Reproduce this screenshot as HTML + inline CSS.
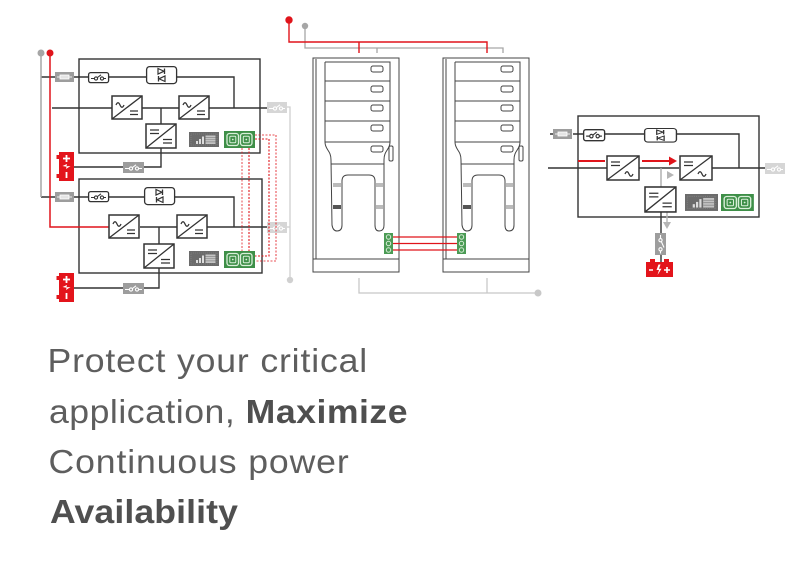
<!DOCTYPE html>
<html><head><meta charset="utf-8"><style>
html,body{margin:0;padding:0;background:#fff;}
svg{display:block;}
</style></head><body>
<svg width="790" height="566" viewBox="0 0 790 566" xmlns="http://www.w3.org/2000/svg">
<defs>
  <g id="cv1">
    <rect x="0" y="0" width="30" height="23" fill="#fff" stroke="#333" stroke-width="1.5"/>
    <line x1="0" y1="23" x2="30" y2="0" stroke="#333" stroke-width="1.3"/>
    <path d="M4 9 q2 -4.5 4 0 t4 0" fill="none" stroke="#333" stroke-width="1.3"/>
    <path d="M18 15 H26 M18 18.5 H26" stroke="#333" stroke-width="1.3"/>
  </g>
  <g id="cv2">
    <rect x="0" y="0" width="32" height="24" fill="#fff" stroke="#333" stroke-width="1.5"/>
    <line x1="0" y1="24" x2="32" y2="0" stroke="#333" stroke-width="1.3"/>
    <path d="M4 6 H13 M4 9.5 H13" stroke="#333" stroke-width="1.3"/>
    <path d="M18 18 q2 -4.5 4 0 t4 0" fill="none" stroke="#333" stroke-width="1.3"/>
  </g>
  <g id="cv3">
    <rect x="0" y="0" width="30" height="24" fill="#fff" stroke="#333" stroke-width="1.5"/>
    <line x1="0" y1="24" x2="30" y2="0" stroke="#333" stroke-width="1.3"/>
    <path d="M4 6 H13 M4 9.5 H13" stroke="#333" stroke-width="1.3"/>
    <path d="M17 15.5 H26 M17 19 H26" stroke="#333" stroke-width="1.3"/>
  </g>
  <g id="sw">
    <rect x="0.6" y="0.6" width="20" height="10" rx="2" fill="#fff" stroke="#333" stroke-width="1.3"/>
    <path d="M3 6.5 H6.4 M9.5 5.5 L13 2.8 M15.6 6.5 H18" stroke="#333" stroke-width="1.1" fill="none"/>
    <circle cx="8" cy="6.5" r="1.6" fill="none" stroke="#333" stroke-width="1.1"/>
    <circle cx="14" cy="6.5" r="1.6" fill="none" stroke="#333" stroke-width="1.1"/>
  </g>
  <g id="gsw">
    <rect x="0" y="0" width="21" height="11" fill="#9d9d9d"/>
    <path d="M2 6.5 H6.4 M9.5 5.5 L13 2.8 M15.6 6.5 H19" stroke="#fff" stroke-width="1.1" fill="none"/>
    <circle cx="8" cy="6.5" r="1.6" fill="none" stroke="#fff" stroke-width="1.1"/>
    <circle cx="14" cy="6.5" r="1.6" fill="none" stroke="#fff" stroke-width="1.1"/>
  </g>
  <g id="lsw">
    <rect x="0" y="0" width="20" height="11" fill="#d6d6d6"/>
    <path d="M2 6.5 H6.4 M9.5 5.5 L13 2.8 M15.6 6.5 H18" stroke="#fff" stroke-width="1.1" fill="none"/>
    <circle cx="8" cy="6.5" r="1.6" fill="none" stroke="#fff" stroke-width="1.1"/>
    <circle cx="14" cy="6.5" r="1.6" fill="none" stroke="#fff" stroke-width="1.1"/>
  </g>
  <g id="fuse">
    <rect x="0" y="0" width="19" height="10" fill="#9d9d9d"/>
    <line x1="2" y1="5" x2="17" y2="5" stroke="#eee" stroke-width="1"/>
    <rect x="5" y="3" width="9" height="4" fill="#e4e4e4" stroke="#fff" stroke-width="0.8"/>
  </g>
  <g id="diode">
    <rect x="0.6" y="0.6" width="30" height="17" rx="3" fill="#fff" stroke="#333" stroke-width="1.3"/>
    <polygon points="12,2.5 12,8 18,5.2" fill="#fff" stroke="#333" stroke-width="1.2"/>
    <line x1="18.5" y1="2.5" x2="18.5" y2="8" stroke="#333" stroke-width="1.3"/>
    <polygon points="19,10 19,15.5 13,12.8" fill="#fff" stroke="#333" stroke-width="1.2"/>
    <line x1="12.5" y1="10" x2="12.5" y2="15.5" stroke="#333" stroke-width="1.3"/>
  </g>
  <g id="batv">
    <rect x="-2.5" y="3" width="3" height="4" fill="#e3141b"/>
    <rect x="-2.5" y="22" width="3" height="4" fill="#e3141b"/>
    <rect x="0" y="0" width="15" height="29" fill="#e3141b"/>
    <path d="M7.5 3 V10 M4 6.5 H11" stroke="#fff" stroke-width="1.8"/>
    <polygon points="3.5,14 8,12 7.5,14.2 11.5,14 7,17 7.5,14.8" fill="#fff"/>
    <path d="M7.5 20 V26" stroke="#fff" stroke-width="1.8"/>
  </g>
  <g id="disp">
    <rect x="0" y="0" width="30" height="15" fill="#6b6b6b"/>
    <rect x="2" y="2" width="26" height="11" fill="none" stroke="#888" stroke-width="0.6" stroke-dasharray="1 1"/>
    <rect x="7" y="9" width="2" height="3" fill="#ddd"/>
    <rect x="10" y="7" width="2" height="5" fill="#ddd"/>
    <rect x="13" y="4.5" width="2" height="7.5" fill="#ddd"/>
    <rect x="16.5" y="3.5" width="10" height="8.5" fill="#c4c4c4"/>
    <path d="M16.5 5.5 H26.5 M16.5 7.7 H26.5 M16.5 9.9 H26.5" stroke="#8a8a8a" stroke-width="0.7"/>
  </g>
  <g id="grn">
    <rect x="0" y="0" width="31" height="17" fill="#3e8f48"/>
    <rect x="3" y="2.5" width="11.5" height="12" rx="2.5" fill="none" stroke="#d9efd9" stroke-width="1.3"/>
    <rect x="5.8" y="5.3" width="6" height="6.4" rx="1" fill="none" stroke="#d9efd9" stroke-width="1"/>
    <circle cx="8.8" cy="8.5" r="0.9" fill="#d9efd9"/>
    <rect x="16.5" y="2.5" width="11.5" height="12" rx="2.5" fill="none" stroke="#d9efd9" stroke-width="1.3"/>
    <rect x="19.3" y="5.3" width="6" height="6.4" rx="1" fill="none" stroke="#d9efd9" stroke-width="1"/>
    <circle cx="22.3" cy="8.5" r="0.9" fill="#d9efd9"/>
  </g>
  <g id="cab" fill="none" stroke="#444" stroke-width="1">
    <rect x="313" y="58" width="86" height="214" fill="#fff"/>
    <line x1="316" y1="59" x2="316" y2="259"/>
    <line x1="313" y1="259" x2="399" y2="259"/>
    <path d="M325 62 H390 V142 M325 62 V142"/>
    <path d="M325 81 H390 M325 101 H390 M325 121 H390 M325 142 H390"/>
    <rect x="371" y="66" width="12" height="6" rx="2"/>
    <rect x="371" y="86" width="12" height="6" rx="2"/>
    <rect x="371" y="105" width="12" height="6" rx="2"/>
    <rect x="371" y="125" width="12" height="6" rx="2"/>
    <rect x="371" y="146" width="12" height="6" rx="2"/>
    <rect x="389" y="146" width="4" height="15" rx="1.5"/>
    <path d="M325 142 C325 150 331 150 331 160 L332 225 Q333 231 337 231 Q342 231 342 225 L342 181 Q342 175 348 175 L369 175 Q375 175 375 181 L375 225 Q375 231 379 231 Q384 231 384 225 L384 160 C384 150 390 150 390 142"/>
    <line x1="331" y1="164" x2="384" y2="164"/>
    <rect x="333" y="183" width="8" height="4" fill="#bbb" stroke="none"/>
    <rect x="376" y="183" width="7" height="4" fill="#bbb" stroke="none"/>
    <rect x="333" y="205" width="8" height="4" fill="#555" stroke="none"/>
    <rect x="376" y="205" width="7" height="4" fill="#bbb" stroke="none"/>
  </g>
</defs>

<!-- ===== LEFT DIAGRAM ===== -->
<g stroke="#333" stroke-width="1.4" fill="none">
  <rect x="79" y="59" width="181" height="94"/>
  <rect x="79" y="179" width="183" height="94"/>
  <path d="M41 77 H55 M74 77 H88 M109 77 H146 M177 77 H234 V108"/>
  <path d="M52 108 H112 M142 108 H179 M209 108 H267"/>
  <path d="M161 108 V124 M161 148 V167 H74"/>
  <path d="M41 197 H55 M74 197 H88 M109 197 H144 M174 197 H234 V227"/>
  <path d="M140 227 H177 M207 227 H267"/>
  <path d="M159 227 V244 M159 268 V288 H74"/>
</g>
<circle cx="41" cy="53" r="3.5" fill="#a6a6a6"/>
<circle cx="50" cy="53" r="3.5" fill="#e0141b"/>
<line x1="41" y1="53" x2="41" y2="197" stroke="#a6a6a6" stroke-width="1.5"/>
<polyline points="50,53 50,227 109,227" stroke="#e0141b" stroke-width="1.5" fill="none"/>
<polyline points="287,107 290,107 290,280" stroke="#d0d0d0" stroke-width="1.3" fill="none"/>
<line x1="287" y1="227" x2="290" y2="227" stroke="#d0d0d0" stroke-width="1.3"/>
<circle cx="290" cy="280" r="3.2" fill="#d0d0d0"/>

<use href="#fuse" x="55" y="72"/>
<use href="#sw" x="88" y="72"/>
<use href="#diode" x="146" y="66"/>
<use href="#cv1" x="112" y="96"/>
<use href="#cv1" x="179" y="96"/>
<use href="#cv3" x="146" y="124"/>
<use href="#lsw" x="267" y="102"/>
<use href="#gsw" x="123" y="162"/>
<use href="#batv" x="59" y="152"/>
<use href="#disp" x="189" y="132"/>
<use href="#grn" x="224" y="131"/>

<use href="#fuse" x="55" y="192"/>
<use href="#sw" x="88" y="191"/>
<use href="#diode" x="144" y="187"/>
<use href="#cv1" x="109" y="215"/>
<use href="#cv1" x="177" y="215"/>
<use href="#cv3" x="144" y="244"/>
<use href="#lsw" x="267" y="222"/>
<use href="#gsw" x="123" y="283"/>
<use href="#batv" x="59" y="273"/>
<use href="#disp" x="189" y="251"/>
<use href="#grn" x="224" y="251"/>

<g fill="none" stroke="#e0141b" stroke-width="1.1" stroke-dasharray="2 1.5">
  <polyline points="255,135 276,135 276,261 255,261" opacity="0.75"/>
  <polyline points="255,139 269,139 269,256 255,256"/>
  <line x1="242" y1="148" x2="242" y2="251" opacity="0.7"/>
  <line x1="249" y1="148" x2="249" y2="251"/>
</g>

<!-- ===== MIDDLE CABINETS ===== -->
<polyline points="305,26 305,48 503,48 503,53" stroke="#a6a6a6" stroke-width="1.3" fill="none"/>
<line x1="377" y1="48" x2="377" y2="53" stroke="#a6a6a6" stroke-width="1.3"/>
<polyline points="289,20 289,42 487,42 487,53" stroke="#e0141b" stroke-width="1.4" fill="none"/>
<line x1="359" y1="42" x2="359" y2="53" stroke="#e0141b" stroke-width="1.4"/>
<circle cx="289" cy="20" r="3.7" fill="#e0141b"/>
<circle cx="305" cy="26" r="3.2" fill="#a6a6a6"/>

<use href="#cab"/>
<use href="#cab" transform="translate(130,0)"/>

<g stroke="#e0141b" stroke-width="1.2">
  <line x1="393" y1="237" x2="457" y2="237"/>
  <line x1="393" y1="243.5" x2="457" y2="243.5"/>
  <line x1="393" y1="250" x2="457" y2="250"/>
</g>
<g>
  <rect x="384" y="233" width="9" height="21" fill="#4b9b55"/>
  <rect x="457" y="233" width="9" height="21" fill="#4b9b55"/>
  <g fill="none" stroke="#d6ecd6" stroke-width="1">
    <circle cx="388.5" cy="237" r="2.2"/><circle cx="388.5" cy="243.5" r="2.2"/><circle cx="388.5" cy="250" r="2.2"/>
    <circle cx="461.5" cy="237" r="2.2"/><circle cx="461.5" cy="243.5" r="2.2"/><circle cx="461.5" cy="250" r="2.2"/>
  </g>
</g>
<polyline points="359,278 359,293 538,293" stroke="#c8c8c8" stroke-width="1.3" fill="none"/>
<line x1="487" y1="278" x2="487" y2="293" stroke="#c8c8c8" stroke-width="1.3"/>
<circle cx="538" cy="293" r="3.5" fill="#c8c8c8"/>

<!-- ===== RIGHT DIAGRAM ===== -->
<g stroke="#333" stroke-width="1.4" fill="none">
  <rect x="578" y="116" width="181" height="101"/>
  <path d="M550 134 H553 M573 134 H583 M605 134 H644 M677 134 H739 V168"/>
  <path d="M548 168 H607 M639 168 H679 M712 168 H765"/>
  <path d="M661 212 V233 M661 255 V262"/>
</g>
<line x1="661" y1="168" x2="661" y2="187" stroke="#aaa" stroke-width="1.4"/>
<polygon points="667,171 674,175 667,179" fill="#b5b5b5"/>
<line x1="667" y1="212" x2="667" y2="223" stroke="#b5b5b5" stroke-width="1.4"/>
<polygon points="663,222 671,222 667,229" fill="#b5b5b5"/>
<line x1="578" y1="161" x2="605" y2="161" stroke="#e0141b" stroke-width="2"/>
<line x1="642" y1="161" x2="670" y2="161" stroke="#e0141b" stroke-width="2"/>
<polygon points="669,156.5 677,161 669,165.5" fill="#e0141b"/>

<use href="#fuse" x="553" y="129"/>
<use href="#sw" transform="translate(583,129) scale(1.05,1.1)"/>
<use href="#diode" transform="translate(644,128) scale(1.06,0.8)"/>
<use href="#cv2" x="607" y="156"/>
<use href="#cv2" x="680" y="156"/>
<use href="#cv3" transform="translate(645,187) scale(1.03,1.04)"/>
<use href="#lsw" x="765" y="163"/>
<use href="#disp" transform="translate(685,194) scale(1.1,1.13)"/>
<use href="#grn" transform="translate(721,194) scale(1.06,1)"/>

<rect x="655" y="233" width="11" height="22" fill="#9d9d9d"/>
<g stroke="#fff" stroke-width="1.1" fill="none">
  <path d="M660.5 235 V238.5 M661.5 242 L664 247.5 M660.5 251 V253.5"/>
  <circle cx="660.5" cy="240.2" r="1.6"/>
  <circle cx="660.5" cy="249.3" r="1.6"/>
</g>
<rect x="650" y="259" width="5" height="3.5" fill="#e3141b"/>
<rect x="664" y="259" width="5" height="3.5" fill="#e3141b"/>
<rect x="646" y="262" width="27" height="15" fill="#e3141b"/>
<path d="M649 270 H653 M664 270 H670 M667 267 V273" stroke="#fff" stroke-width="1.6"/>
<polygon points="658.5,264.5 656.5,270 659,270 657.5,275 661.5,268.8 659,268.8 660.5,264.5" fill="#fff"/>

<!-- ===== TEXT ===== -->
<g font-family="'Liberation Sans', sans-serif" font-size="33">
  <text transform="translate(47.5,372) scale(1.08,1)" x="0" y="0" fill="#5e5e5e" textLength="296" lengthAdjust="spacing">Protect your critical</text>
  <text transform="translate(49,423) scale(1.08,1)" x="0" y="0" fill="#5e5e5e" textLength="332" lengthAdjust="spacing">application, <tspan font-weight="bold" fill="#4f4f4f">Maximize</tspan></text>
  <text transform="translate(48.5,473) scale(1.08,1)" x="0" y="0" fill="#5e5e5e" textLength="278" lengthAdjust="spacing">Continuous power</text>
  <text transform="translate(50,523) scale(1.08,1)" x="0" y="0" fill="#4f4f4f" font-weight="bold" textLength="174" lengthAdjust="spacing">Availability</text>
</g>
</svg>
</body></html>
